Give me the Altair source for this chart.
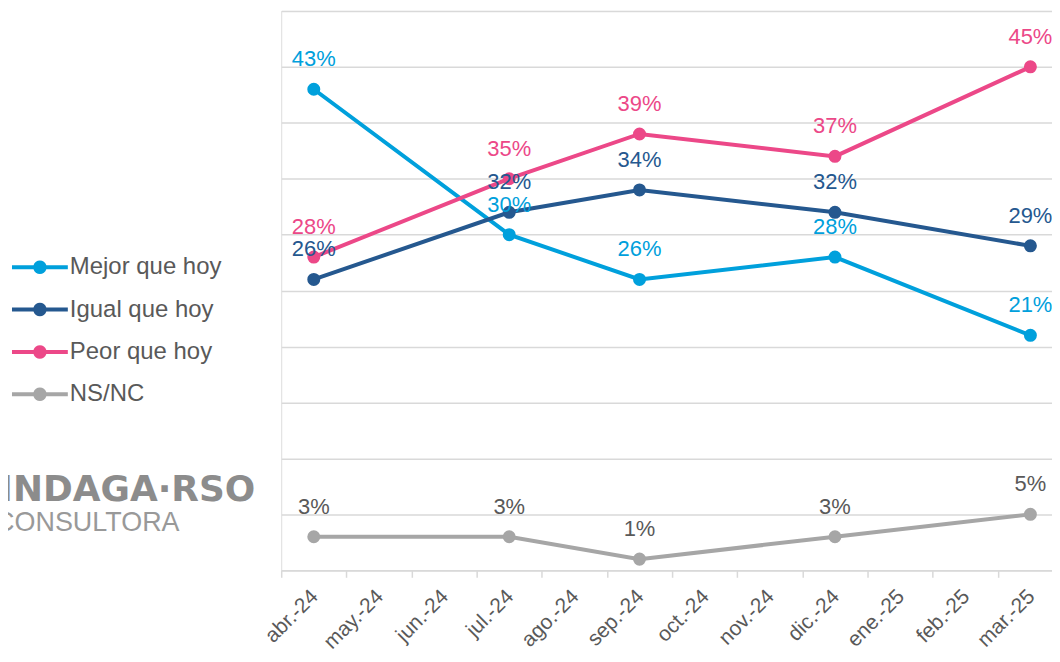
import altair as alt
import pandas as pd

months = ["abr.-24", "may.-24", "jun.-24", "jul.-24", "ago.-24", "sep.-24",
          "oct.-24", "nov.-24", "dic.-24", "ene.-25", "feb.-25", "mar.-25"]
survey = ["abr.-24", "jul.-24", "sep.-24", "dic.-24", "mar.-25"]

series = ["Mejor que hoy", "Igual que hoy", "Peor que hoy", "NS/NC"]
mejor = [43, 30, 26, 28, 21]
igual = [26, 32, 34, 32, 29]
peor = [28, 35, 39, 37, 45]
nsnc = [3, 3, 1, 3, 5]

line_colors = ["#00A0DC", "#25588F", "#EC4888", "#A6A6A6"]
label_colors = ["#00A0DC", "#25588F", "#EC4888", "#595959"]

rows = []
for s, vals, lc in zip(series, [mejor, igual, peor, nsnc], label_colors):
    for m, v in zip(survey, vals):
        rows.append({"mes": m, "idx": months.index(m), "serie": s, "valor": v,
                     "label": f"{v}%", "lcolor": lc})
df = pd.DataFrame(rows)

FONT = "Liberation Sans"

legend_path = ("M-1,-0.07H-0.2296A0.24,0.24 0 0,1 0.2296,-0.07H1V0.07"
               "H0.2296A0.24,0.24 0 0,1 -0.2296,0.07H-1Z")

x_enc = alt.X(
    "mes:O",
    sort=months,
    scale=alt.Scale(type="band", domain=months, paddingInner=0, paddingOuter=0),
    axis=alt.Axis(title=None, tickBand="extent", labelAngle=-45, grid=False,
                  domainColor="#D9D9D9", domainWidth=1.5,
                  tickColor="#D9D9D9", tickWidth=1.5, tickSize=7,
                  labelFont=FONT, labelFontSize=21, labelColor="#595959",
                  labelPadding=8, labelOffset=-7, labelAlign="right"),
)
y_enc = alt.Y(
    "valor:Q",
    scale=alt.Scale(domain=[0, 50], nice=False),
    axis=alt.Axis(values=list(range(0, 51, 5)), labels=False, ticks=False,
                  domain=False, title=None, gridColor="#D9D9D9", gridWidth=1.5),
)
color_enc = alt.Color(
    "serie:N",
    sort=series,
    scale=alt.Scale(domain=series, range=line_colors),
    legend=alt.Legend(
        title=None, orient="none", legendX=-270, legendY=229,
        symbolType=legend_path, symbolSize=3136, symbolStrokeWidth=0,
        symbolOpacity=1,
        labelFont=FONT, labelFontSize=24, labelColor="#595959",
        labelOffset=2, rowPadding=2.5,
    ),
)

base = alt.Chart(df)

lines = base.mark_line(strokeWidth=4).encode(
    x=x_enc, y=y_enc, color=color_enc, order=alt.Order("idx:Q")
)
points = base.mark_point(filled=True, size=170, opacity=1).encode(
    x=x_enc, y=y_enc, color=color_enc
)
labels = base.mark_text(dy=-30, fontSize=22, font=FONT, baseline="middle").encode(
    x=x_enc, y=y_enc, text="label:N", fill=alt.Fill("lcolor:N", scale=None)
)

logo1 = alt.Chart(pd.DataFrame({"t": ["INDAGA·RSO"]})).mark_text(
    align="right", baseline="alphabetic", font="DejaVu Sans", fontWeight="bold",
    fontSize=36, color="#8C8C8C"
).encode(text="t:N", x=alt.value(-26), y=alt.value(491))

logo2 = alt.Chart(pd.DataFrame({"t": ["CONSULTORA"]})).mark_text(
    align="right", baseline="alphabetic", font=FONT, fontWeight="normal",
    fontSize=27, color="#999999"
).encode(text="t:N", x=alt.value(-102), y=alt.value(522))

chart = alt.layer(lines, points, labels, logo1, logo2).properties(
    width=784, height=561,
    autosize=alt.AutoSizeParams(type="none"),
    padding={"left": 274, "top": 2, "right": -11, "bottom": 82},
).configure_view(stroke=None).configure(background="white")

chart.save("out.html", embed_options={"renderer": "svg", "actions": False})
